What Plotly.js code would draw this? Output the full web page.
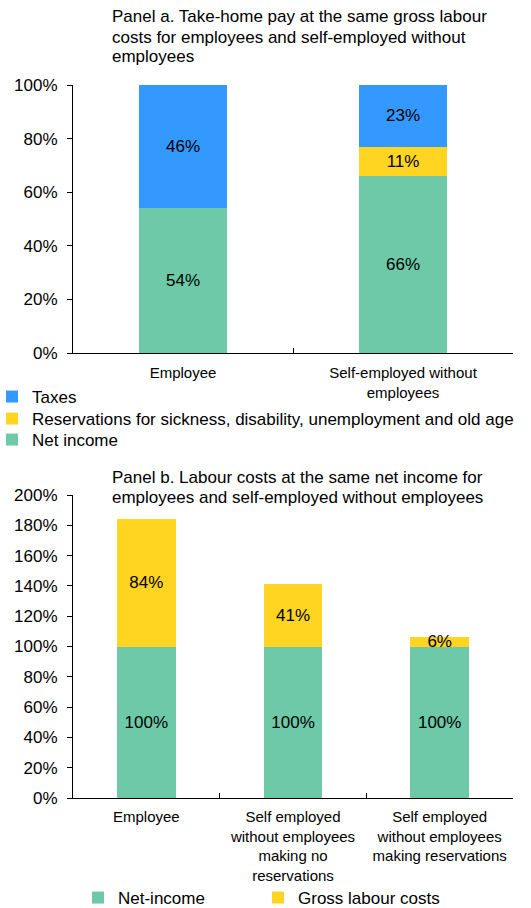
<!DOCTYPE html>
<html>
<head>
<meta charset="utf-8">
<script src="https://cdn.plot.ly/plotly-3.0.1.min.js"></script>
<style>html,body{margin:0;padding:0;background:#fff;}#chart{width:531px;height:908px;}</style>
</head>
<body>
<div id="chart"></div>
<script>
// Panel a data
var catsA = ['Employee', 'Self-employed without<br>employees'];
var netIncomeA = [54, 66];
var reservationsA = [0, 11];
var taxesA = [46, 23];
var namesA = ['Net income', 'Reservations for sickness, disability, unemployment and old age', 'Taxes'];

// Panel b data
var catsB = ['Employee', 'Self employed<br>without employees<br>making no<br>reservations', 'Self employed<br>without employees<br>making reservations'];
var netIncomeB = [100, 100, 100];
var grossLabourB = [84, 41, 6];
var namesB = ['Net-income', 'Gross labour costs'];

var titleA = ['Panel a. Take-home pay at the same gross labour', 'costs for employees and self-employed without', 'employees'];
var titleB = ['Panel b. Labour costs at the same net income for', 'employees and self-employed without employees'];

var GREEN = '#6DC9A8', YELLOW = '#FFD521', BLUE = '#3399FF';
var FONT = 'Liberation Sans, Arial, sans-serif';

function lbl(arr) { return arr.map(function (v) { return v ? v + '%' : ''; }); }

function barTrace(x, y, name, color, xa, ya, leg) {
  return {
    type: 'bar', x: x, y: y, name: name, xaxis: xa, yaxis: ya, legend: leg,
    marker: {color: color},
    text: lbl(y), textposition: 'inside', insidetextanchor: 'middle',
    constraintext: 'none', textangle: 0,
    textfont: {family: FONT, size: 17, color: '#000'},
    hoverinfo: 'skip'
  };
}

var data = [
  barTrace(catsA, netIncomeA, namesA[0], GREEN, 'x', 'y', 'legend3'),
  barTrace(catsA, reservationsA, namesA[1], YELLOW, 'x', 'y', 'legend2'),
  barTrace(catsA, taxesA, namesA[2], BLUE, 'x', 'y', 'legend'),
  barTrace(catsB, netIncomeB, namesB[0], GREEN, 'x2', 'y2', 'legend4'),
  barTrace(catsB, grossLabourB, namesB[1], YELLOW, 'x2', 'y2', 'legend5')
];

var xdom = [73 / 531, 513 / 531];
function xAxis(anchor, standoff) {
  return {domain: xdom, anchor: anchor, type: 'category', showline: true, linecolor: '#000', linewidth: 1,
    ticks: 'inside', tickson: 'boundaries', ticklen: 5, tickcolor: '#000', showgrid: false, zeroline: false,
    ticklabelstandoff: standoff,
    tickfont: {family: FONT, size: 15, color: '#000'}, fixedrange: true};
}
function yAxis(anchor, dom, max) {
  return {domain: dom, anchor: anchor, range: [0, max], dtick: 20, tick0: 0, ticksuffix: '%',
    showline: true, linecolor: '#000', linewidth: 1, ticks: 'outside', ticklen: 5, tickcolor: '#000',
    showgrid: false, zeroline: false, ticklabelstandoff: 6,
    tickfont: {family: FONT, size: 17, color: '#000'}, fixedrange: true};
}
function legendAt(xpx, ypx, yanchor) {
  return {x: xpx / 531, xanchor: 'left', y: 1 - ypx / 908, yanchor: yanchor || 'middle', orientation: 'v',
    traceorder: 'normal', bgcolor: 'rgba(0,0,0,0)', borderwidth: 0,
    font: {family: FONT, size: 17, color: '#000'}};
}

var annotations = [];
var yA = [17, 37.5, 57];
titleA.forEach(function (t, i) {
  annotations.push({xref: 'paper', yref: 'paper', x: 110 / 531, y: 1 - yA[i] / 908, xanchor: 'left', yanchor: 'middle',
    showarrow: false, text: t, font: {family: FONT, size: 17, color: '#000'}});
});
var yB = [477, 497];
titleB.forEach(function (t, i) {
  annotations.push({xref: 'paper', yref: 'paper', x: 110 / 531, y: 1 - yB[i] / 908, xanchor: 'left', yanchor: 'middle',
    showarrow: false, text: t, font: {family: FONT, size: 17, color: '#000'}});
});

var layout = {
  width: 531, height: 908,
  margin: {l: 0, r: 0, t: 0, b: 0, autoexpand: false},
  paper_bgcolor: '#fff', plot_bgcolor: '#fff',
  font: {family: FONT, size: 17, color: '#000'},
  barmode: 'stack', bargap: 0.6,
  xaxis: xAxis('y', 6),
  yaxis: yAxis('x', [1 - 353 / 908, 1 - 85 / 908], 100),
  xaxis2: xAxis('y2', 5),
  yaxis2: yAxis('x2', [1 - 798 / 908, 1 - 495 / 908], 200),
  showlegend: true,
  legend: legendAt(-8, 397),
  legend2: legendAt(-8, 419),
  legend3: legendAt(-8, 440),
  legend4: legendAt(78, 898),
  legend5: legendAt(258, 898),
  annotations: annotations
};

Plotly.newPlot('chart', data, layout, {staticPlot: true, displayModeBar: false});
</script>
</body>
</html>
